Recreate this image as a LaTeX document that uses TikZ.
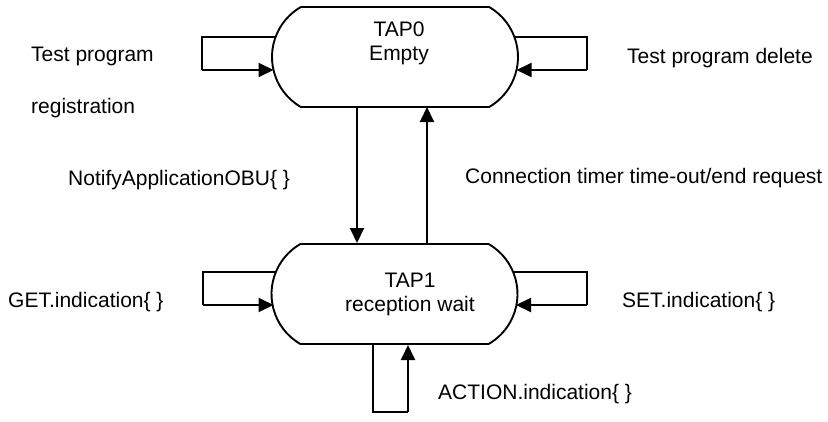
\documentclass[tikz,border=0pt]{standalone}
\usepackage{fontspec}
\setmainfont{Liberation Sans}
\usetikzlibrary{arrows.meta,shapes.misc}
\tikzset{
  state/.style={rounded rectangle, rounded rectangle arc length=120, draw, line width=1.9pt,
    minimum width=246pt, minimum height=100pt, inner sep=0pt},
  lbl/.style={inner sep=0pt, font=\fontsize{21pt}{24pt}\selectfont, anchor=base west},
  ctext/.style={inner sep=0pt, font=\fontsize{21pt}{24pt}\selectfont, align=center, anchor=base},
  conn/.style={line width=1.9pt},
  arr/.style={line width=1.9pt, -{Triangle[length=15pt,width=14pt]}},
}
\begin{document}
\begin{tikzpicture}[x=1pt,y=1pt]
\useasboundingbox (0,0) rectangle (828,-421);
% states
\node[state] (tap0) at (395,-57) {};
\node[state] (tap1) at (394.5,-294) {};
\node[ctext] (tap0t) at (399,-60) {TAP0\\Empty};
\node[ctext] (tap1t) at (410,-311) {TAP1\\reception wait};
% loop coordinates TAP0
\coordinate (a1) at (275.6,-37);
\coordinate (a2) at (202,-37);
\coordinate (a3) at (202,-70);
\coordinate (a4) at (273.5,-70);
\coordinate (b1) at (514.4,-37);
\coordinate (b2) at (587,-37);
\coordinate (b3) at (587,-70);
\coordinate (b4) at (516.5,-70);
% loop coordinates TAP1
\coordinate (c1) at (276,-272);
\coordinate (c2) at (203,-272);
\coordinate (c3) at (203,-305);
\coordinate (c4) at (273.5,-305);
\coordinate (d1) at (513,-272);
\coordinate (d2) at (587,-272);
\coordinate (d3) at (587,-305);
\coordinate (d4) at (516,-305);
\coordinate (e1) at (373,-345);
\coordinate (e2) at (373,-412);
\coordinate (e3) at (408,-412);
\coordinate (e4) at (408,-345);
% vertical connectors
\coordinate (v1) at (357,-107);
\coordinate (v2) at (357,-243);
\coordinate (w1) at (427,-243);
\coordinate (w2) at (427,-107);
\draw[conn] (a1) -- (a2) -- (a3);
\draw[arr] (a3) -- (a4);
\draw[conn] (b1) -- (b2) -- (b3);
\draw[arr] (b3) -- (b4);
\draw[conn] (c1) -- (c2) -- (c3);
\draw[arr] (c3) -- (c4);
\draw[conn] (d1) -- (d2) -- (d3);
\draw[arr] (d3) -- (d4);
\draw[conn] (e1) -- (e2) -- (e3);
\draw[arr] (e3) -- (e4);
\draw[arr] (v1) -- (v2);
\draw[arr] (w1) -- (w2);
% labels
\node[lbl] (l1) at (31,-61) {Test program};
\node[lbl] (l2) at (31,-113) {registration};
\node[lbl] (l3) at (627,-63) {Test program delete};
\node[lbl] (l4) at (68,-185) {NotifyApplicationOBU\{ \}};
\node[lbl] (l5) at (465,-183) {Connection timer time-out/end request};
\node[lbl] (l6) at (8,-307) {GET.indication\{ \}};
\node[lbl] (l7) at (622,-307) {SET.indication\{ \}};
\node[lbl] (l8) at (438,-399) {ACTION.indication\{ \}};
\end{tikzpicture}
\end{document}
